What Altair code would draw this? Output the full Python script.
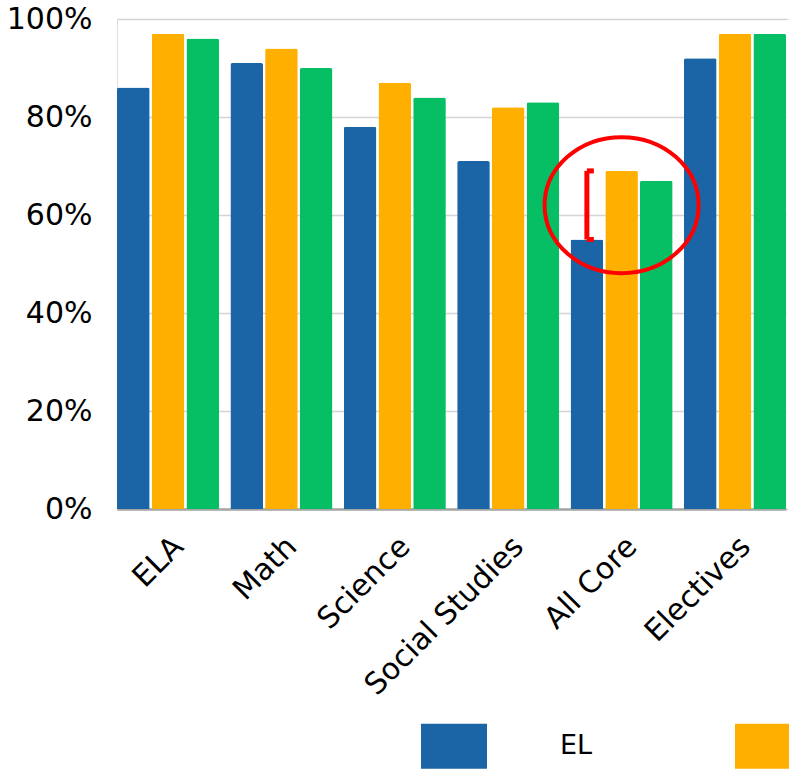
import altair as alt
import pandas as pd

# Share of students passing, by subject and student group (percent)
subjects = ["ELA", "Math", "Science", "Social Studies", "All Core", "Electives"]
groups = ["EL", "Non-EL", "All Students"]
el_pct = [86, 91, 78, 71, 55, 92]
non_el_pct = [97, 94, 87, 82, 69, 97]
all_pct = [96, 90, 84, 83, 67, 97]
group_colors = ["#1b65a7", "#ffaf00", "#06bf64"]
y_ticks = [0, 20, 40, 60, 80, 100]

rows = []
for i, subj in enumerate(subjects):
    for grp, vals in zip(groups, [el_pct, non_el_pct, all_pct]):
        rows.append({"subject": subj, "group": grp, "pct": vals[i]})
df = pd.DataFrame(rows)

# Highlighted gap: EL vs Non-EL in "All Core"
focus = "All Core"
k = subjects.index(focus)
gap_lo, gap_hi = el_pct[k], non_el_pct[k]
gap = pd.DataFrame([{"subject": focus, "group": "EL", "lo": gap_lo, "hi": gap_hi,
                     "mid": (gap_lo + gap_hi) / 2}])
gap_ends = pd.DataFrame([{"subject": focus, "group": "EL", "pct": gap_lo},
                         {"subject": focus, "group": "EL", "pct": gap_hi}])

x_enc = alt.X("subject:N", sort=subjects, title=None,
              scale=alt.Scale(paddingInner=0.1, paddingOuter=0, range=[0, 669]),
              axis=alt.Axis(labelAngle=-45, labelFont="DejaVu Sans", labelFontSize=30,
                            labelColor="#000000", labelPadding=22, labelLimit=0,
                            ticks=False, domainColor="#a6a6a6", domainWidth=2.5,
                            grid=False))
xo_enc = alt.XOffset("group:N", sort=groups, scale=alt.Scale(paddingInner=0.06, paddingOuter=0))

bars = alt.Chart(df).mark_bar(cornerRadiusEnd=2).encode(
    x=x_enc,
    xOffset=xo_enc,
    y=alt.Y("pct:Q", title=None,
            scale=alt.Scale(domain=[0, 100], nice=False),
            axis=alt.Axis(values=y_ticks, labelExpr="datum.value + '%'",
                          labelFont="DejaVu Sans", labelFontSize=30, labelColor="#000000",
                          labelPadding=25, ticks=False, domain=False,
                          gridColor="#d4d4d4", gridWidth=1.5)),
    color=alt.Color("group:N", sort=groups,
                    scale=alt.Scale(domain=groups, range=group_colors),
                    legend=alt.Legend(orient="none", legendX=304, legendY=694,
                                      direction="horizontal", title=None,
                                      symbolType="M-1,-0.68H1V0.68H-1Z", symbolSize=4356,
                                      symbolStrokeWidth=0, symbolOpacity=1,
                                      labelFont="DejaVu Sans", labelFontSize=27,
                                      labelColor="#000000", labelOffset=73,
                                      columnPadding=142)),
)

bracket = alt.Chart(gap).mark_rule(color="#ff0000", strokeWidth=5, opacity=1).encode(
    x=alt.X("subject:N", sort=subjects),
    xOffset=alt.XOffset("group:N", sort=groups),
    y="lo:Q",
    y2="hi:Q",
)

bracket_ends = alt.Chart(gap_ends).mark_point(
    shape="M0,0H1", size=196, filled=False, color="#ff0000", strokeWidth=5, opacity=1
).encode(
    x=alt.X("subject:N", sort=subjects),
    xOffset=alt.XOffset("group:N", sort=groups),
    y="pct:Q",
)

ring = alt.Chart(gap).mark_point(
    shape="M-1,0A1,0.883 0 1,0 1,0A1,0.883 0 1,0 -1,0Z", size=23716,
    filled=False, color="#ff0000", strokeWidth=4, opacity=1
).encode(
    x=alt.X("subject:N", sort=subjects),
    y="mid:Q",
)

chart = alt.layer(bars, bracket, bracket_ends, ring).properties(
    width=672, height=490,
    autosize=alt.AutoSizeParams(type="none"),
    padding={"left": 117, "top": 19, "right": 0, "bottom": 262},
).configure_view(stroke=None).configure(background="#ffffff")

chart.save("out.html", embed_options={"renderer": "svg", "actions": False})
